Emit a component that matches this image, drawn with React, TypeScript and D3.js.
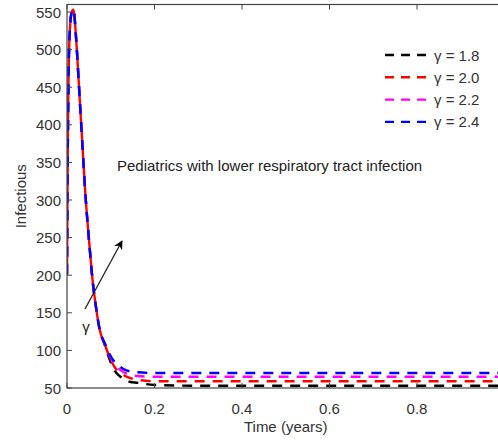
import React from "react";
import * as d3 from "d3";

const time = [0, 0.002, 0.004, 0.007, 0.010, 0.014, 0.017, 0.020, 0.030, 0.043, 0.052, 0.059, 0.064, 0.075, 0.087, 0.098, 0.110, 0.120, 0.130, 0.145, 0.160, 0.200, 0.300, 0.400, 0.500, 0.600, 0.700, 0.800, 0.900, 1.000];
const gamma18 = [201, 380, 480, 530, 548, 553, 545, 522, 425, 300, 235, 190, 167, 127, 106, 87, 72, 66, 62, 58, 57, 54, 53, 53, 53, 53, 53, 53, 53, 53];
const gamma20 = [201, 380, 480, 530, 548, 553, 545, 522, 425, 300, 235, 190, 167, 127, 107, 90, 77, 71, 67, 63, 61, 59, 59, 59, 59, 59, 59, 59, 59, 59];
const gamma22 = [201, 380, 480, 530, 548, 553, 545, 522, 425, 300, 235, 190, 167, 127, 108, 92, 80, 75, 71, 68, 66, 65, 65, 65, 65, 65, 65, 65, 65, 65];
const gamma24 = [201, 380, 480, 530, 548, 553, 545, 522, 425, 300, 235, 190, 167, 127, 109, 94, 84, 79, 75, 72, 71, 70, 70, 70, 70, 70, 70, 70, 70, 70];
const seriesLabels = ["γ = 1.8", "γ = 2.0", "γ = 2.2", "γ = 2.4"];
const seriesColors = ["#000000", "#ff0000", "#ff00ff", "#0000ff"];
const xTicks = [0, 0.2, 0.4, 0.6, 0.8, 1];
const yTicks = [50, 100, 150, 200, 250, 300, 350, 400, 450, 500, 550];

export default function App() {
  const W = 498, H = 443;
  const left = 67, right = 504.5, top = 4.5, bottom = 388;
  const x = d3.scaleLinear().domain([0, 1]).range([left, right]);
  const y = d3.scaleLinear().domain([50, 560]).range([bottom, top]);
  const allSeries = [gamma18, gamma20, gamma22, gamma24];
  const dashOffsets = [0, 9, 0, 0];
  const line = d3
    .line<number>()
    .x((_, i) => x(time[i]))
    .y((d) => y(d))
    .curve(d3.curveMonotoneX);
  const font = "Arial, 'Liberation Sans', sans-serif";
  const axisColor = "#444";
  const textColor = "#333";
  const tickLen = 5;
  const fs = 15;
  return (
    <div style={{ position: "fixed", left: 0, top: 0 }}>
      <svg width={W} height={H} style={{ display: "block", background: "#fff" }} fontFamily={font}>
        <defs>
          <clipPath id="plotclip">
            <rect x={left} y={top} width={right - left} height={bottom - top} />
          </clipPath>
          <marker id="arrowhead" viewBox="0 0 10 10" refX="9" refY="5" markerWidth="7" markerHeight="7" orient="auto">
            <path d="M0,0 L10,5 L0,10 L3,5 Z" fill="#000" />
          </marker>
        </defs>
        <rect x={0} y={0} width={W} height={H} fill="#fff" />
        <g clipPath="url(#plotclip)">
          {allSeries.map((s, k) => (
            <path
              key={k}
              d={line(s) || ""}
              fill="none"
              stroke={seriesColors[k]}
              strokeWidth={2.4}
              strokeDasharray="10,8"
              strokeDashoffset={dashOffsets[k]}
            />
          ))}
        </g>
        <rect x={left} y={top} width={right - left} height={bottom - top} fill="none" stroke={axisColor} strokeWidth={1.2} />
        {xTicks.map((t) => (
          <g key={"x" + t}>
            <line x1={x(t)} x2={x(t)} y1={bottom} y2={bottom - tickLen} stroke={axisColor} />
            <line x1={x(t)} x2={x(t)} y1={top} y2={top + tickLen} stroke={axisColor} />
            <text x={x(t)} y={413.5} textAnchor="middle" fontSize={fs} fill={textColor}>
              {t === 0 ? "0" : t === 1 ? "1" : t.toFixed(1)}
            </text>
          </g>
        ))}
        {yTicks.map((v) => (
          <g key={"y" + v}>
            <line x1={left} x2={left + tickLen} y1={y(v)} y2={y(v)} stroke={axisColor} />
            <line x1={right} x2={right - tickLen} y1={y(v)} y2={y(v)} stroke={axisColor} />
            <text x={61} y={y(v) + 5.5} textAnchor="end" fontSize={fs} fill={textColor}>
              {v}
            </text>
          </g>
        ))}
        <text x={(left + right) / 2} y={432} textAnchor="middle" fontSize={fs} fill={textColor}>
          Time (years)
        </text>
        <text
          transform={`translate(26, ${(top + bottom) / 2}) rotate(-90)`}
          textAnchor="middle"
          fontSize={fs}
          fill={textColor}
        >
          Infectious
        </text>
        <text x={117} y={170.5} fontSize={fs} fill="#222">
          Pediatrics with lower respiratory tract infection
        </text>
        <line x1={85} y1={309} x2={122} y2={241} stroke="#222" strokeWidth={1.3} markerEnd="url(#arrowhead)" />
        <text x={86} y={332} textAnchor="middle" fontSize={fs} fill="#222">
          γ
        </text>
        {seriesLabels.map((lab, k) => {
          const ly = 55 + k * 22.3;
          return (
            <g key={lab}>
              <line x1={385} x2={432} y1={ly} y2={ly} stroke={seriesColors[k]} strokeWidth={2.4} strokeDasharray="9,7" />
              <text x={434} y={ly + 5.5} fontSize={fs} fill={textColor}>
                {lab}
              </text>
            </g>
          );
        })}
      </svg>
    </div>
  );
}
